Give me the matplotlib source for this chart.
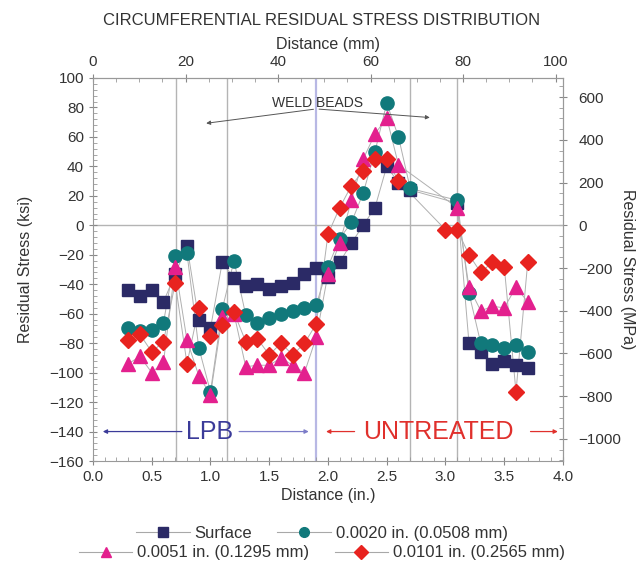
import matplotlib
matplotlib.use("Agg")
import matplotlib.pyplot as plt
from matplotlib.lines import Line2D
from matplotlib.ticker import MultipleLocator, FixedLocator

plt.rcParams['font.family'] = ['Liberation Sans', 'DejaVu Sans']

# distance (in.) and residual stress (ksi)
x_surface = [0.3, 0.4, 0.5, 0.6, 0.7, 0.8, 0.9, 1.0, 1.1, 1.2, 1.3, 1.4, 1.5, 1.6, 1.7, 1.8,
             1.9, 2.0, 2.1, 2.2, 2.3, 2.4, 2.5, 2.6, 2.7, 3.1, 3.2, 3.3, 3.4, 3.5, 3.6, 3.7]
surface = [-44, -48, -44, -52, -33, -14, -64, -70, -25, -36, -41, -40, -43, -41, -39, -33,
           -29, -35, -25, -12, 0, 12, 40, 29, 24, 15, -80, -86, -94, -92, -95, -97]

x_d0020 = x_surface
d0020 = [-70, -72, -71, -66, -21, -19, -83, -113, -57, -24, -61, -66, -63, -60, -58, -56,
         -54, -28, -9, 2, 22, 50, 83, 60, 25, 17, -46, -80, -81, -83, -81, -86]

x_d0051 = [0.3, 0.4, 0.5, 0.6, 0.7, 0.8, 0.9, 1.0, 1.1, 1.2, 1.3, 1.4, 1.5, 1.6, 1.7, 1.8,
           1.9, 2.0, 2.1, 2.2, 2.3, 2.4, 2.5, 2.6, 3.1, 3.2, 3.3, 3.4, 3.5, 3.6, 3.7]
d0051 = [-94, -89, -100, -93, -28, -78, -102, -115, -62, -60, -96, -95, -95, -90, -95, -100,
         -76, -33, -12, 17, 45, 62, 73, 41, 12, -42, -58, -55, -56, -42, -52]

x_d0101 = [0.3, 0.4, 0.5, 0.6, 0.7, 0.8, 0.9, 1.0, 1.1, 1.2, 1.3, 1.4, 1.5, 1.6, 1.7, 1.8,
           1.9, 2.0, 2.1, 2.2, 2.3, 2.4, 2.5, 2.6, 3.0, 3.1, 3.2, 3.3, 3.4, 3.5, 3.6, 3.7]
d0101 = [-78, -74, -86, -79, -39, -94, -56, -75, -68, -59, -79, -77, -88, -80, -88, -80,
         -67, -6, 12, 27, 37, 45, 45, 30, -3, -3, -20, -32, -25, -28, -113, -25]

bead_lines = [0.71, 1.14, 2.7, 3.1]
lpb_end = 1.9
mm_ticks = [0, 20, 40, 60, 80, 100]
mpa_ticks = [-1000, -800, -600, -400, -200, 0, 200, 400, 600]

series = [
    (x_surface, surface, 's', '#2b2a66', 8.5, 'Surface'),
    (x_d0020, d0020, 'o', '#11797b', 9.5, '0.0020 in. (0.0508 mm)'),
    (x_d0051, d0051, '^', '#e3208e', 9.5, '0.0051 in. (0.1295 mm)'),
    (x_d0101, d0101, 'D', '#e8231f', 8.5, '0.0101 in. (0.2565 mm)'),
]

txt = '#333333'
fig = plt.figure(figsize=(6.44, 5.70), dpi=100)
ax = fig.add_axes([0.1444, 0.1912, 0.7298, 0.672])

for xv in bead_lines:
    ax.axvline(xv, color='#b4b4b4', lw=1.0, zorder=1)
ax.axvline(lpb_end, color='#b8b8e4', lw=1.6, zorder=1)
ax.axhline(0, color='#b4b4b4', lw=1.0, zorder=1)

handles = []
for xs, ys, mk, col, ms, lab in series:
    ax.plot(xs, ys, color='#b0b0b0', lw=0.7, zorder=2)
    ax.plot(xs, ys, ls='none', marker=mk, ms=ms, color=col, mec=col, zorder=3)
    handles.append(Line2D([], [], color='#a8a8a8', lw=0.8, marker=mk, ms=7,
                          mfc=col, mec=col, label=lab))

ax.set_xlim(0, 4.0)
ax.set_ylim(-160, 100)
ax.xaxis.set_major_locator(MultipleLocator(0.5))
ax.xaxis.set_minor_locator(MultipleLocator(0.1))
ax.yaxis.set_major_locator(MultipleLocator(20))
ax.yaxis.set_minor_locator(MultipleLocator(4))
ax.xaxis.set_major_formatter(plt.FormatStrFormatter('%.1f'))

top = ax.secondary_xaxis('top', functions=(lambda v: v * 25.4, lambda v: v / 25.4))
top.xaxis.set_major_locator(FixedLocator(mm_ticks))
top.xaxis.set_minor_locator(FixedLocator(list(range(0, 101, 5))))
top.set_xlabel('Distance (mm)', fontsize=11.5, color=txt, labelpad=4)

right = ax.secondary_yaxis('right', functions=(lambda v: v * 6.895, lambda v: v / 6.895))
right.yaxis.set_major_locator(FixedLocator(mpa_ticks))
right.yaxis.set_minor_locator(FixedLocator(list(range(-1100, 651, 50))))
right.set_ylabel('Residual Stress (MPa)', fontsize=11.5, color=txt, rotation=270, labelpad=10)

for a in (ax, top, right):
    a.tick_params(which='major', direction='inout', length=6, width=0.8, colors='#888888',
                  labelcolor=txt, labelsize=11)
    a.tick_params(which='minor', direction='in', length=3, width=0.6, colors='#999999')
right.tick_params(which='major', pad=8)
for sp in ax.spines.values():
    sp.set_color('#999999')
for sp in list(top.spines.values()) + list(right.spines.values()):
    sp.set_color('#999999')

ax.set_xlabel('Distance (in.)', fontsize=11.5, color=txt, labelpad=3)
ax.set_ylabel('Residual Stress (ksi)', fontsize=11.5, color=txt, labelpad=12)
fig.suptitle('CIRCUMFERENTIAL RESIDUAL STRESS DISTRIBUTION', fontsize=12, color=txt, y=0.978)

# weld beads annotation
ax.text(1.91, 83, 'WELD BEADS', fontsize=10, color=txt, ha='center', va='center')
for end in [(0.94, 69), (2.89, 73)]:
    ax.annotate('', xy=end, xytext=(1.9, 79),
                arrowprops=dict(arrowstyle='-|>', color='#555555', lw=0.7, mutation_scale=6))

# LPB / UNTREATED zones
ax.text(0.99, -140, 'LPB', fontsize=18, color='#3b3b99', ha='center', va='center')
ax.annotate('', xy=(0.06, -140), xytext=(0.78, -140),
            arrowprops=dict(arrowstyle='-|>', color='#3b3b99', lw=0.9, mutation_scale=6))
ax.annotate('', xy=(1.86, -140), xytext=(1.22, -140),
            arrowprops=dict(arrowstyle='-|>', color='#7c7cc8', lw=0.9, mutation_scale=6))
ax.text(2.3, -140, 'UNTREATED', fontsize=18, color='#e0302c', ha='left', va='center')
ax.annotate('', xy=(1.96, -140), xytext=(2.25, -140),
            arrowprops=dict(arrowstyle='-|>', color='#e0302c', lw=0.9, mutation_scale=6))
ax.annotate('', xy=(3.98, -140), xytext=(3.7, -140),
            arrowprops=dict(arrowstyle='-|>', color='#e0302c', lw=0.9, mutation_scale=6))

leg_kw = dict(ncol=2, frameon=False, fontsize=12, handlelength=3.2, handletextpad=0.3,
              columnspacing=1.5, labelcolor=txt)
fig.legend(handles=handles[:2], loc='center', bbox_to_anchor=(0.5, 0.064), **leg_kw)
fig.legend(handles=handles[2:], loc='center', bbox_to_anchor=(0.5, 0.030), **leg_kw)

plt.savefig('out.png', dpi=100, facecolor='white')
